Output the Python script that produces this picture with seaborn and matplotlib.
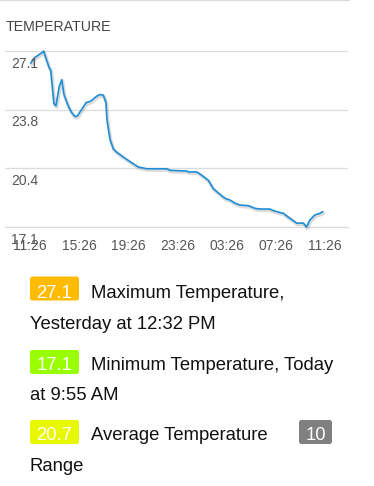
import numpy as np
import pandas as pd
import matplotlib
matplotlib.use("Agg")
import matplotlib.pyplot as plt
import matplotlib.patheffects as pe
from matplotlib.patches import FancyBboxPatch
import seaborn as sns

# ---- data (hours since 11:26 yesterday, temperature) ----
hours = [0.06, 0.19, 0.41, 1.08, 1.10, 1.57, 1.68, 1.95, 2.11, 2.38, 2.58, 2.76,
         3.11, 3.39, 3.66, 3.85, 4.20, 4.55, 4.93, 5.42, 5.69, 5.96, 6.18, 6.26,
         6.50, 6.77, 7.05, 7.59, 7.99, 8.40, 8.80, 9.21, 9.49, 11.11, 11.38,
         12.74, 12.87, 13.55, 13.96, 14.50, 14.90, 15.45, 15.85, 16.26, 16.67,
         17.07, 17.75, 18.29, 18.70, 19.51, 19.78, 20.33, 20.59, 21.00, 21.68,
         22.22, 22.48, 22.76, 23.17, 23.58, 23.80]
temps = [26.41, 26.54, 26.74, 27.06, 27.10, 26.13, 26.03, 24.10, 23.99, 25.09,
         25.47, 24.63, 23.97, 23.60, 23.37, 23.41, 23.78, 24.16, 24.25, 24.53,
         24.63, 24.59, 24.16, 23.20, 22.10, 21.54, 21.35, 21.07, 20.88, 20.69,
         20.51, 20.45, 20.41, 20.41, 20.32, 20.28, 20.23, 20.23, 20.04, 19.75,
         19.28, 18.95, 18.73, 18.63, 18.45, 18.35, 18.31, 18.16, 18.12, 18.12,
         18.03, 17.92, 17.88, 17.66, 17.32, 17.32, 17.10, 17.50, 17.79, 17.88,
         17.97]
x_tick_labels = ["11:26", "15:26", "19:26", "23:26", "03:26", "07:26", "11:26"]
x_tick_hours = [0, 4, 8, 12, 16, 20, 24]
y_tick_labels = ["27.1", "23.8", "20.4", "17.1"]
y_min, y_max = 17.1, 27.1

title = "TEMPERATURE"
badge_values = ["27.1", "17.1", "20.7", "10"]
badge_colors = ["#FFBB00", "#99FF00", "#E8F800", "#808080"]

df = pd.DataFrame({"hours": hours, "temp": temps})

W, H = 374, 486
fig = plt.figure(figsize=(W / 100, H / 100), dpi=100)
sns.set_style("white")
plt.rcParams["font.family"] = ["Liberation Sans", "DejaVu Sans"]

def rect(l, t, r, b):
    return [l / W, 1 - b / H, (r - l) / W, (b - t) / H]

# overlay for page elements
ov = fig.add_axes([0, 0, 1, 1])
ov.set_xlim(0, W)
ov.set_ylim(H, 0)
ov.axis("off")
ov.plot([0, 349], [0.5, 0.5], color="#dddddd", lw=1)
ov.text(6, 27, title, fontsize=10.2, color="#444444", va="center", ha="left",
        family=["Liberation Sans", "DejaVu Sans"])

# chart
ax = fig.add_axes(rect(5, 51, 348, 227))
ax.patch.set_alpha(0)
sns.lineplot(data=df, x="hours", y="temp", ax=ax, color="#1f8dd6", lw=1.2,
             clip_on=False,
             path_effects=[pe.SimpleLineShadow(offset=(0.6, -1.0), shadow_color="#999999",
                                               alpha=0.35, linewidth=2.5),
                           pe.Normal()])
ax.set_xlim(-25 / 12.3, 318 / 12.3)
ax.set_ylim(y_min, y_max)
for s in ax.spines.values():
    s.set_visible(False)
yt = np.linspace(y_max, y_min, len(y_tick_labels))
ax.set_yticks(yt)
ax.set_yticklabels([])
ax.tick_params(axis="y", length=0)
ax.grid(axis="y", color="#dcdcdc", lw=0.9)
ax.grid(axis="x", visible=False)
for v, lab in zip(yt, y_tick_labels):
    ax.annotate(lab, xy=(0, v), xycoords=("axes fraction", "data"),
                xytext=(4.5, -9), textcoords="offset points",
                ha="left", va="center", fontsize=10, color="#555555", zorder=5)
ax.set_xticks(x_tick_hours)
ax.set_xticklabels(x_tick_labels)
ax.tick_params(axis="x", direction="in", length=6.5, width=0.8, color="#cccccc",
               labelsize=10, labelcolor="#555555", pad=8.5)
ax.set_xlabel("")
ax.set_ylabel("")
ax.axhline(y_min, color="#dcdcdc", lw=0.9, zorder=0, clip_on=False)

# legend-like stats
def badge(x0, x1, yc, txt, color, h=24):
    p = FancyBboxPatch((x0, yc - h / 2), x1 - x0, h,
                       boxstyle="round,pad=0,rounding_size=2.5",
                       fc=color, ec="none")
    ov.add_patch(p)

fs = 13.3
rows = [
    (298, 288.5, "Maximum Temperature,", 0),
    (370, 362, "Minimum Temperature, Today", 1),
    (440, 432, "Average Temperature", 2),
]
for base, yc, label, i in rows:
    badge(30, 79, yc, badge_values[i], badge_colors[i])
    ov.text(54.5, base, badge_values[i], color="white", fontsize=fs, ha="center",
            va="baseline")
    ov.text(91, base, label, color="#111111", fontsize=fs, ha="left", va="baseline")
badge(299, 332, 432, badge_values[3], badge_colors[3])
ov.text(315.5, 440, badge_values[3], color="white", fontsize=fs, ha="center", va="baseline")
ov.text(30, 329, "Yesterday at 12:32 PM", color="#111111", fontsize=fs, ha="left", va="baseline")
ov.text(30, 400, "at 9:55 AM", color="#111111", fontsize=fs, ha="left", va="baseline")
ov.text(30, 470.5, "Range", color="#111111", fontsize=fs, ha="left", va="baseline")

fig.savefig("out.png", dpi=100)
